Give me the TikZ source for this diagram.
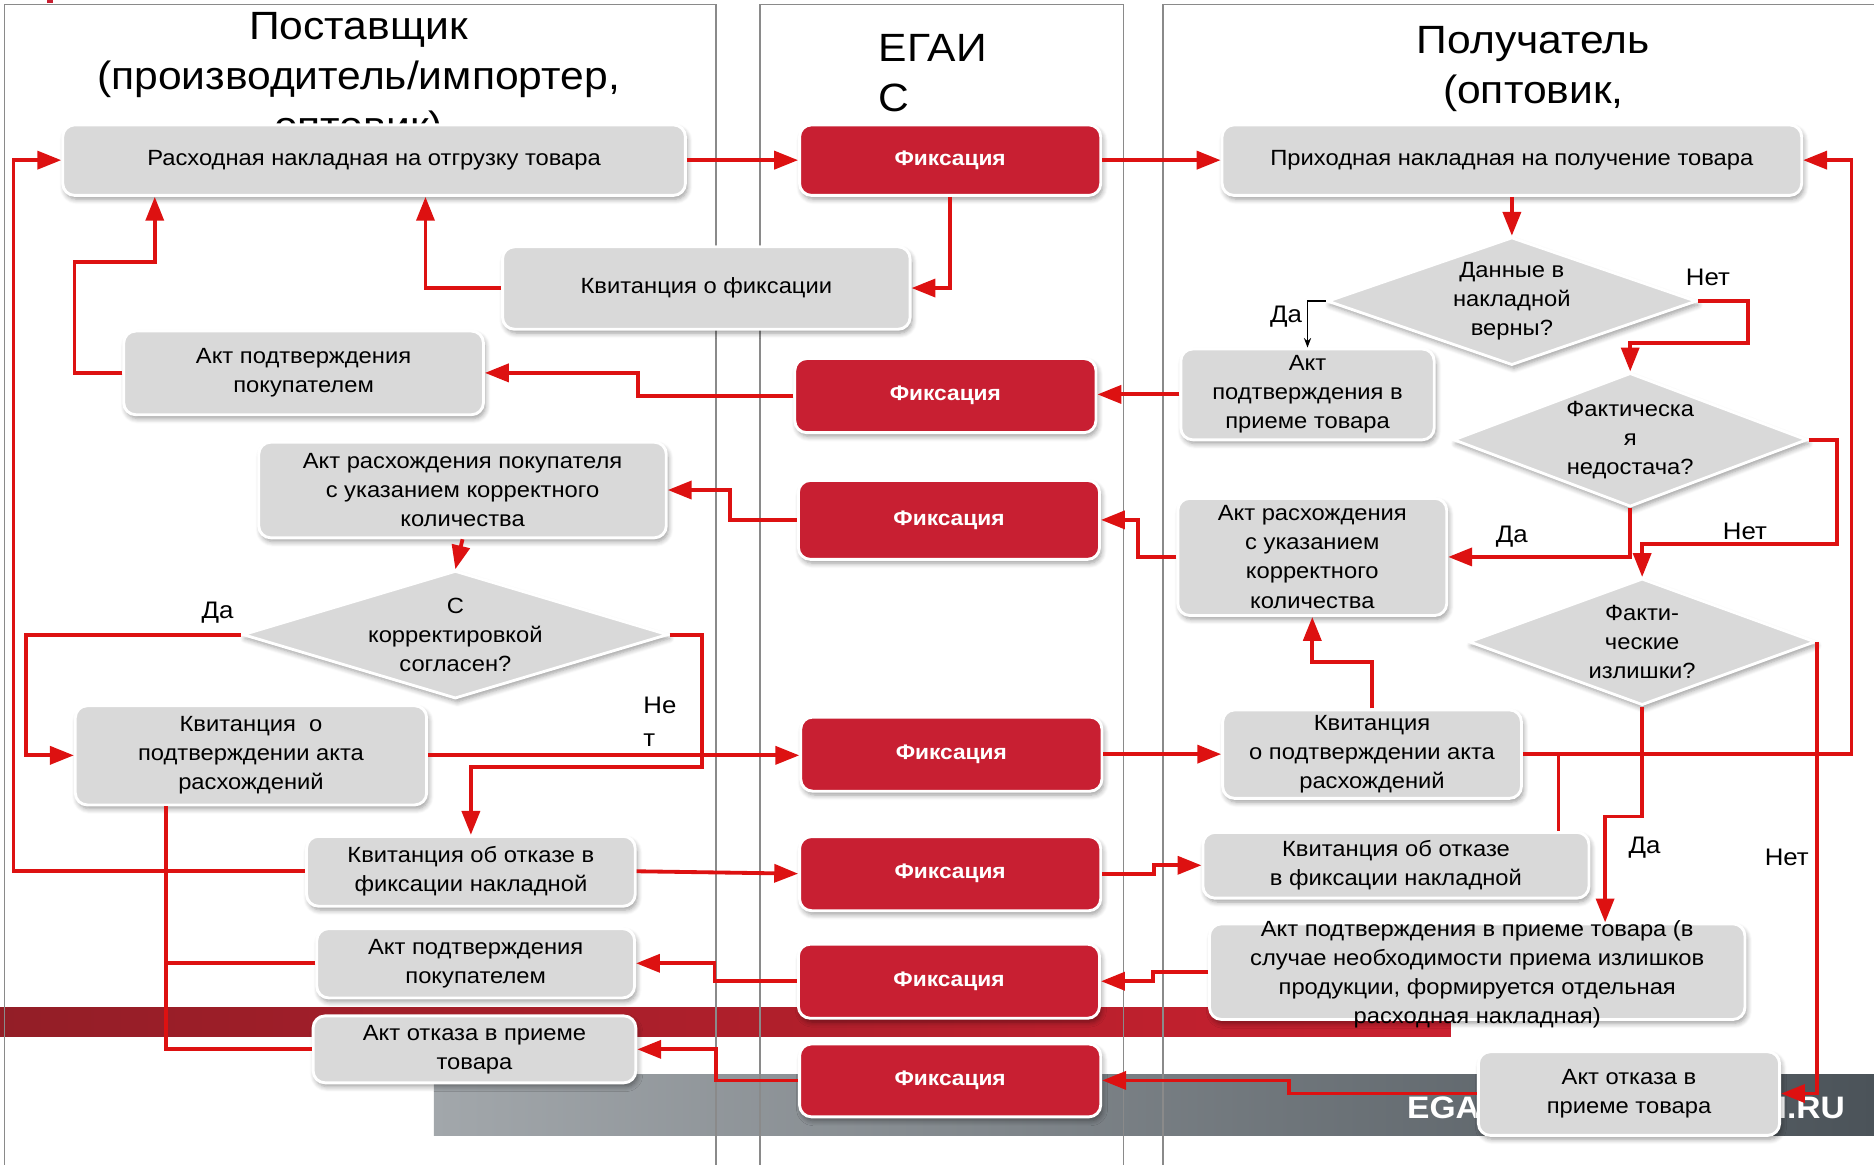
\documentclass[tikz,border=0pt]{standalone}
\usepackage{fontspec}
\setmainfont{Liberation Sans}[FakeStretch=1.08]
\usepackage{xcolor}
\usepackage{tikz}
\usetikzlibrary{positioning,arrows.meta,shapes.geometric,shadows.blur,calc}

\definecolor{boxgray}{HTML}{D9D9D9}
\definecolor{fixred}{HTML}{C81F32}
\definecolor{linered}{HTML}{DD1111}
\definecolor{lanegray}{HTML}{8A8A8A}
\definecolor{banddark}{HTML}{931E27}
\definecolor{bandred}{HTML}{C9202F}
\definecolor{stripelight}{HTML}{A2A7AB}
\definecolor{stripedark}{HTML}{4B5359}

\begin{document}
\begin{tikzpicture}[
    x=0.5pt, y=-0.5pt,
    font=\fontsize{9.2}{12.2}\selectfont,
    doc_box/.style={draw=white, line width=1.2pt, fill=boxgray, rounded corners=5pt, align=center, inner sep=1pt,
        blur shadow={shadow xshift=0.8pt, shadow yshift=-1.6pt, shadow blur steps=6, shadow opacity=40}},
    fix_box/.style={doc_box, fill=fixred, text=white, font=\bfseries\fontsize{8.8}{11}\selectfont,
        minimum width=126pt, minimum height=31pt},
    dec_box/.style={diamond, draw=white, line width=1.2pt, fill=boxgray, inner sep=0pt,
        blur shadow={shadow xshift=0.8pt, shadow yshift=-1.6pt, shadow blur steps=6, shadow opacity=40}},
    dec_text/.style={align=center, inner sep=0pt},
    lane_line/.style={draw=lanegray, line width=0.6pt},
    title_text/.style={font=\fontsize{16.5}{21}\selectfont, inner sep=0pt},
    yes_no/.style={font=\fontsize{10}{13.75}\selectfont, inner sep=0pt},
    arrow/.style={-{Triangle[length=10pt,width=7.5pt]}, line width=1.6pt, draw=linered},
    link/.style={line width=1.6pt, draw=linered}
]

\useasboundingbox (0,0) rectangle (1568,974);
\clip (0,0) rectangle (1568,974);

% background bands and swimlanes
\fill [fixred] (39,0) rectangle (44,2.5);
\shade [left color=banddark, right color=bandred] (0,843) rectangle (1214,867);
\shade [left color=stripelight, right color=stripedark] (363,899) rectangle (1568,950);
\node (egai) [anchor=base west, inner sep=0pt, text=white, font=\bfseries\fontsize{13}{15}\selectfont] at (1177,936) {EGAI};
\node (ru)   [anchor=base east, inner sep=0pt, text=white, font=\bfseries\fontsize{13}{15}\selectfont] at (1544,936) {I.RU};

\draw [lane_line] (4,1000) |- (599,4) -- (599,1000);
\draw [lane_line] (636,1000) |- (940,4) -- (940,1000);
\draw [lane_line] (973,1000) |- (1600,4);

% titles (anchored at the baseline of their last line)
\node (t_sup) [title_text, align=center, anchor=base] at (300,117)
    {Поставщик\\(производитель/импортер,\\оптовик)};
\node (t_egais) [title_text, align=left, anchor=base west] at (735,93.5)
    {ЕГАИ\\С};
\node (t_rcv) [title_text, align=center, anchor=base] at (1283,86.5)
    {Получатель\\(оптовик,};

% supplier lane
\node (b_ship) [doc_box, minimum width=260.5pt, minimum height=29.5pt] at (313,134)
    {Расходная накладная на отгрузку товара};
\node (b_rcpt) [doc_box, minimum width=170.5pt, minimum height=34.5pt] at (591,241)
    {Квитанция о фиксации};
\node (b_conf) [doc_box, minimum width=150.5pt, minimum height=35pt] at (254,312)
    {Акт подтверждения\\покупателем};
\node (b_disc) [doc_box, minimum width=170.5pt, minimum height=40pt] at (387,410)
    {Акт расхождения покупателя\\с указанием корректного\\количества};
\node (d_agree) [dec_box, minimum width=178pt, minimum height=53.5pt,
    label={[dec_text]center:С\\корректировкой\\согласен?}] at (381,531) {};
\node (b_ack) [doc_box, minimum width=147pt, minimum height=41.5pt] at (210,632)
    {Квитанция~~о\\подтверждении акта\\расхождений};
\node (b_refuse) [doc_box, minimum width=137.5pt, minimum height=29.25pt] at (394,729)
    {Квитанция об отказе в\\фиксации накладной};
\node (b_conf2) [doc_box, minimum width=133pt, minimum height=29pt] at (398,806)
    {Акт подтверждения\\покупателем};
\node (b_reject) [doc_box, minimum width=135pt, minimum height=28pt] at (397,878)
    {Акт отказа в приеме\\товара};

% EGAIS lane
\node (f1) [fix_box, minimum height=29.5pt] at (795,134) {Фиксация};
\node (f2) [fix_box] at (791,331) {Фиксация};
\node (f3) [fix_box, minimum height=33pt] at (794,435) {Фиксация};
\node (f4) [fix_box] at (796,631) {Фиксация};
\node (f5) [fix_box] at (795,731) {Фиксация};
\node (f6) [fix_box] at (794,821) {Фиксация};
\node (f7) [fix_box, minimum height=30.5pt] at (795,904) {Фиксация};

% receiver lane
\node (b_in) [doc_box, minimum width=242.5pt, minimum height=29.5pt] at (1265,134)
    {Приходная накладная на получение товара};
\node (d_data) [dec_box, minimum width=154.5pt, minimum height=53.5pt,
    label={[dec_text]center:Данные в\\накладной\\верны?}] at (1265,252) {};
\node (b_accept) [doc_box, minimum width=106pt, minimum height=38pt] at (1094,330)
    {Акт\\подтверждения в\\приеме товара};
\node (d_short) [dec_box, minimum width=148pt, minimum height=56pt,
    label={[dec_text]center:Фактическа\\я\\недостача?}] at (1364,368) {};
\node (b_disc2) [doc_box, minimum width=112.5pt, minimum height=49pt] at (1098,466)
    {Акт расхождения\\с указанием\\корректного\\количества};
\node (d_excess) [dec_box, minimum width=145pt, minimum height=53pt,
    label={[dec_text]center:Факти-\\ческие\\излишки?}] at (1374,537) {};
\node (b_ack2) [doc_box, minimum width=125pt, minimum height=37pt] at (1148,631)
    {Квитанция\\о подтверждении акта\\расхождений};
\node (b_refuse2) [doc_box, minimum width=161.5pt, minimum height=27.5pt] at (1168,724)
    {Квитанция об отказе\\в фиксации накладной};
\node (b_accept2) [doc_box, minimum width=224pt, minimum height=40pt,
    label={[dec_text, yshift=-1pt]center:Акт подтверждения в приеме товара (в\\случае необходимости приема излишков\\продукции, формируется отдельная\\расходная накладная)}] at (1236,813) {};
\node (b_reject2) [doc_box, minimum width=126pt, minimum height=35pt] at (1363,915)
    {Акт отказа в\\приеме товара};

% yes / no labels
\node (yes_agree) [yes_no] at (182,513) {Да};
\node (no_agree) [yes_no, align=left, anchor=west] at (538,604) {Не\\т};
\node (yes_data) [yes_no] at (1076,265) {Да};
\node (no_data) [yes_no] at (1429,232) {Нет};
\node (yes_short) [yes_no] at (1265,449) {Да};
\node (no_short) [yes_no] at (1460,445) {Нет};
\node (yes_excess) [yes_no] at (1376,709) {Да};
\node (no_excess) [yes_no] at (1495,717) {Нет};

% supplier <-> EGAIS
\draw [arrow] (b_ship.east) -- (f1.west);
\draw [arrow] (f1.east) -- (b_in.west);
\draw [arrow] (f1.south) |- (b_rcpt.east);
\draw [arrow] (b_rcpt.west) -| ([xshift=21.5pt]b_ship.south);
\draw [arrow] (b_conf.west) -- ++(-40,0) -- ++(0,-93) -| ([xshift=-91.75pt]b_ship.south);
\draw [arrow] (f2.west) -- ++(-130,0) |- (b_conf.east);
\draw [arrow] (b_accept.west) -- (b_accept.west -| f2.east);
\draw [arrow] (f3.west) -- ++(-56,0) |- (b_disc.east);
\draw [arrow] (b_disc2.west) -- ++(-32,0) |- (f3.east);
\draw [arrow] (b_disc.south) -- (d_agree.north);
\draw [arrow] (d_agree.west) -- ++(-180,0) |- (b_ack.west);
\draw [arrow] (d_agree.east) -- ++(27,0) -- ++(0,110.5) -| (b_refuse.north);
\draw [arrow] (b_ack.east) -- (b_ack.east -| f4.west);
\draw [arrow] (f4.east) -- (f4.east -| b_ack2.west);
\draw [link] ([xshift=-35.5pt]b_ack.south) |- (b_reject.west);
\draw [link] (b_conf2.west) -- ++(-126,0);
\draw [arrow] (b_refuse.west) -- ++(-244,0) |- (b_ship.west);
\draw [arrow] (b_refuse.east) -- (f5.west);
\draw [arrow] (f5.east) -- ++(43.5,0) |- (b_refuse2.west);
\draw [arrow] (b_accept2.west) -- ++(-46,0) |- (f6.east);
\draw [arrow] (f6.west) -- ++(-69,0) |- (b_conf2.east);
\draw [arrow] (b_reject2.west) -- ++(-157,0) |- (f7.east);
\draw [arrow] (f7.west) -- ++(-69,0) |- (b_reject.east);

% receiver checks
\draw [arrow] (b_in.south) -- (d_data.north);
\draw [-{Stealth[length=4pt,width=3pt]}, line width=0.6pt] (d_data.west) -| (b_accept.north);
\draw [arrow] (d_data.east) -- ++(42,0) -- ++(0,35) -| (d_short.north);
\draw [arrow] (d_short.south) |- (b_disc2.east);
\draw [arrow] (d_short.east) -- ++(24,0) -- ++(0,87) -| (d_excess.north);
\draw [arrow] (b_ack2.north) -- ++(0,-39) -| (b_disc2.south);
\draw [arrow] (b_ack2.east) -- ++(275,0) |- (b_in.east);
\draw [link] ([xshift=68pt]b_refuse2.north) -- ++(0,-65);
\draw [arrow] (d_excess.south) -- ++(0,92) -| ([xshift=53.5pt]b_accept2.north);
\draw [arrow] (d_excess.east) |- (b_reject2.east);

\end{tikzpicture}
\end{document}
